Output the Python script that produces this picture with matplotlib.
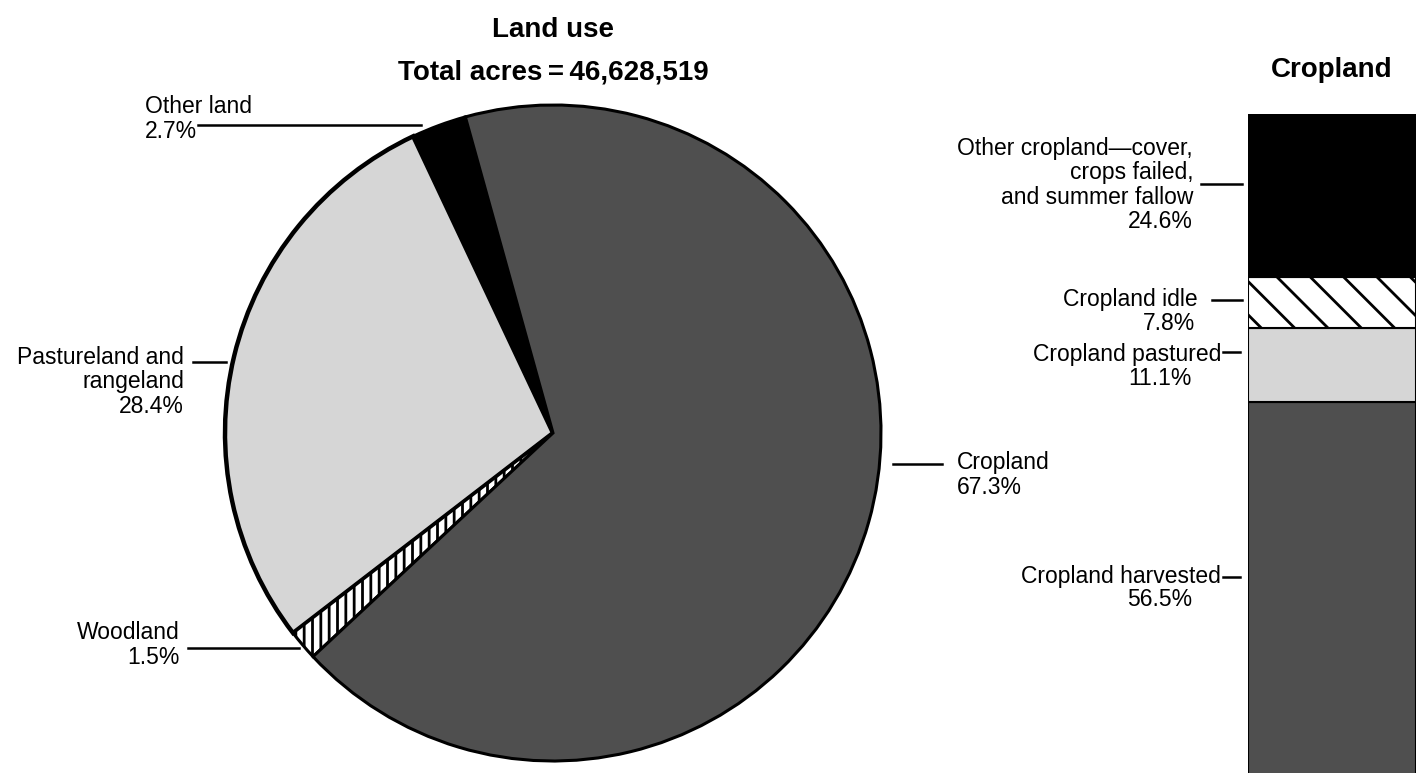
import matplotlib
matplotlib.use("Agg")
import matplotlib.pyplot as plt
from matplotlib.lines import Line2D

plt.rcParams["font.family"] = ["Liberation Sans", "DejaVu Sans"]
plt.rcParams["hatch.linewidth"] = 2.0

W, H = 1423, 773

# ── data ─────────────────────────────────────────────────────────────────────
land_names = ["Other land", "Pastureland and\nrangeland", "Woodland", "Cropland"]
land_pct = [2.7, 28.4, 1.5, 67.3]
total_acres = "46,628,519"

crop_names = ["Cropland harvested", "Cropland pastured", "Cropland idle",
              "Other cropland\u2014cover,\ncrops failed,\nand summer fallow"]
crop_pct = [56.5, 11.1, 7.8, 24.6]

# ── styles ───────────────────────────────────────────────────────────────────
C_DARK = "#4f4f4f"
C_LIGHT = "#d6d6d6"
land_face = ["black", C_LIGHT, "white", C_DARK]
land_hatch = [None, None, "||", None]
crop_face = [C_DARK, C_LIGHT, "white", "black"]
crop_hatch = [None, None, "\\", None]


def fx(x):
    return x / W


def fy(y):
    return 1 - y / H


fig = plt.figure(figsize=(W / 100, H / 100), dpi=100)

# ── pie ──────────────────────────────────────────────────────────────────────
cx, cy, r = 553, 433, 328
ax = fig.add_axes([fx(cx - r), fy(cy + r), 2 * r / W, 2 * r / H])
wedges, _ = ax.pie(land_pct, startangle=105.5, counterclock=True, radius=1,
                   wedgeprops=dict(edgecolor="black", linewidth=2.2))
for w, fc, ht in zip(wedges, land_face, land_hatch):
    w.set_facecolor(fc)
    if ht:
        w.set_hatch(ht)
wedges[1].set_linewidth(3.2)
ax.set_xlim(-1, 1)
ax.set_ylim(-1, 1)
ax.set_aspect("auto")
ax.axis("off")

# ── stacked bar ──────────────────────────────────────────────────────────────
bx0, bx1, btop, bbot = 1248, 1416, 114, 776
axb = fig.add_axes([fx(bx0), fy(bbot), (bx1 - bx0) / W, (bbot - btop) / H])
bottom = 0
for v, fc, ht in zip(crop_pct, crop_face, crop_hatch):
    axb.bar(0, v, bottom=bottom, width=1, color=fc, edgecolor="black",
            linewidth=1.5, hatch=ht)
    bottom += v
axb.set_xlim(-0.5, 0.5)
axb.set_ylim(0, 100)
axb.axis("off")

# ── titles ───────────────────────────────────────────────────────────────────
fig.text(fx(553), fy(30), "Land use", ha="center", va="center",
         fontsize=20, fontweight="bold")
fig.text(fx(553), fy(72), f"Total acres\u2009=\u2009{total_acres}", ha="center",
         va="center", fontsize=20, fontweight="bold")
fig.text(fx(1332), fy(70), "Cropland", ha="center", va="center",
         fontsize=20, fontweight="bold")


# ── labels ───────────────────────────────────────────────────────────────────
def label(x, y, s, ha="left"):
    fig.text(fx(x), fy(y), s, ha=ha, va="center", fontsize=16.5,
             linespacing=1.07)


def lead(x0, x1, y):
    fig.add_artist(Line2D([fx(x0), fx(x1)], [fy(y), fy(y)],
                          transform=fig.transFigure, color="black", lw=1.8))


label(145, 119, f"{land_names[0]}\n{land_pct[0]}%")
lead(198, 421, 125)
label(184, 382, f"{land_names[1]}\n{land_pct[1]}%", ha="right")
lead(193, 226, 362)
label(180, 645, f"{land_names[2]}\n{land_pct[2]}%", ha="right")
lead(188, 299, 648)
label(957, 475, f"{land_names[3]}\n{land_pct[3]}%")
lead(893, 942, 464)

# cropland bar labels
label(1193, 185, f"{crop_names[3]}\n{crop_pct[3]}%", ha="right")
lead(1201, 1242, 184)
label(1198, 299, crop_names[2], ha="right")
label(1195, 323, f"{crop_pct[2]}%", ha="right")
lead(1212, 1242, 300)
label(1221, 354, crop_names[1], ha="right")
label(1192, 378, f"{crop_pct[1]}%", ha="right")
lead(1223, 1240, 352)
label(1221, 576, crop_names[0], ha="right")
label(1192, 600, f"{crop_pct[0]}%", ha="right")
lead(1223, 1240, 577)

fig.savefig("out.png", dpi=100)
